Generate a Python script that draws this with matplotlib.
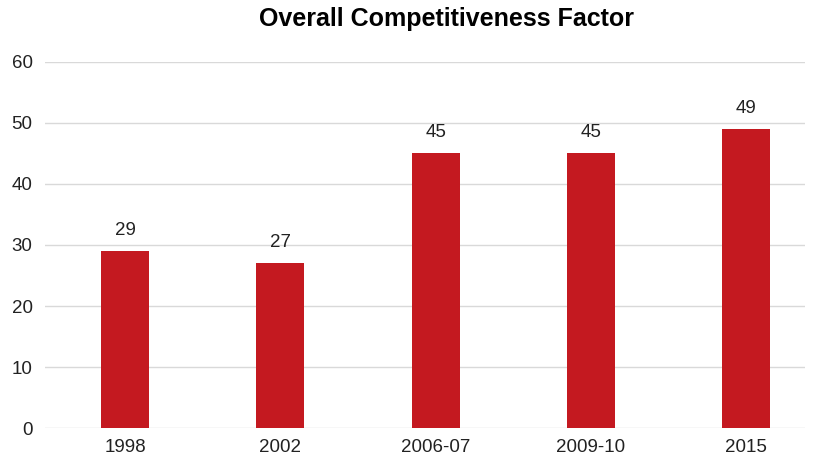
import matplotlib
matplotlib.use('Agg')
import matplotlib.pyplot as plt

categories = ['1998', '2002', '2006-07', '2009-10', '2015']
values = [29, 27, 45, 45, 49]

plt.rcParams['font.family'] = ['Liberation Sans', 'DejaVu Sans']

fig = plt.figure(figsize=(8.2, 4.66), dpi=100)
ax = fig.add_axes([0.055, 0.0815, 0.927, 0.7855])

ax.bar(range(len(categories)), values, width=0.31, color='#C41920', zorder=3)
for i, v in enumerate(values):
    ax.text(i, v + 2.0, str(v), ha='center', va='bottom', fontsize=13.5, color='#222222')

ax.set_xlim(-0.515, 4.38)
ax.set_ylim(0, 60)
ax.set_yticks(range(0, 61, 10))
ax.set_xticks(range(len(categories)))
ax.set_xticklabels(categories)
ax.tick_params(axis='both', length=0, labelsize=13.5, colors='#222222')
ax.tick_params(axis='x', pad=8)
ax.tick_params(axis='y', pad=9)
ax.grid(axis='y', color='#D9D9D9', linewidth=1, zorder=0)
for s in ax.spines.values():
    s.set_visible(False)

fig.suptitle('Overall Competitiveness Factor', x=0.544, y=0.985, fontsize=18, fontweight='bold', va='top')

fig.savefig('out.png', dpi=100)
